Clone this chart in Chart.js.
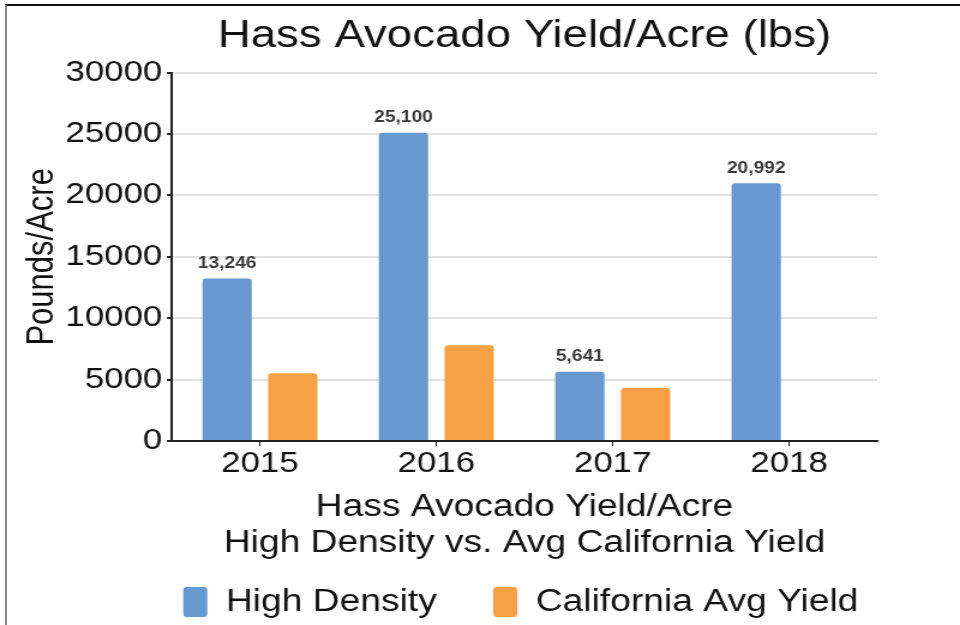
<!DOCTYPE html>
<html lang="en">
<head>
  <meta charset="UTF-8">
  <title>Hass Avocado Yield/Acre</title>
  <script src="https://cdn.jsdelivr.net/npm/chart.js"></script>
  <style>
    body { margin: 0; background: #fff; }
    #yieldChart { position: absolute; left: 0; top: 0; }
    .frame {
      position: absolute; left: 5px; top: 4px; right: 0; bottom: 0;
      border-top: 2px solid #111; border-left: 2px solid #888;
      pointer-events: none;
    }
  </style>
</head>
<body>

<!-- the picture is a bit wider than tall in its text, so the canvas is drawn at 800 wide and shown at 960 -->
<canvas id="yieldChart" width="800" height="625" style="width: 960px; height: 625px;"></canvas>
<div class="frame"></div>

<script>
  const years = ['2015', '2016', '2017', '2018'];
  const highDensity = [13246, 25100, 5641, 20992];
  const californiaAvg = [5530, 7800, 4320, null];
  const yTicks = [0, 5000, 10000, 15000, 20000, 25000, 30000];

  const fontFamily = '"Liberation Sans", Arial, Helvetica, sans-serif';

  // value labels above the blue bars
  const valueLabels = {
    id: 'valueLabels',
    afterDatasetsDraw(chart) {
      const ctx = chart.ctx;
      const meta = chart.getDatasetMeta(0);
      ctx.save();
      ctx.font = 'bold 16px ' + fontFamily;
      ctx.fillStyle = '#3a3a3a';
      ctx.textAlign = 'center';
      ctx.textBaseline = 'middle';
      meta.data.forEach(function (bar, i) {
        ctx.fillText(highDensity[i].toLocaleString('en-US'), bar.x, bar.y - 15);
      });
      ctx.restore();
    }
  };

  const ctx = document.getElementById('yieldChart').getContext('2d');

  new Chart(ctx, {
    type: 'bar',
    data: {
      labels: years,
      datasets: [
        {
          label: 'High Density',
          data: highDensity,
          backgroundColor: '#6798cf',
          borderWidth: 0,
          borderRadius: 3,
          categoryPercentage: 0.745,
          barPercentage: 0.75
        },
        {
          label: 'California Avg Yield',
          data: californiaAvg,
          backgroundColor: '#f7a044',
          borderWidth: 0,
          borderRadius: 3,
          categoryPercentage: 0.745,
          barPercentage: 0.75
        }
      ]
    },
    options: {
      responsive: false,
      animation: false,
      devicePixelRatio: 1,
      layout: {
        // legend is centred a little right of the canvas middle
        padding: { left: 0, right: -68, top: 0, bottom: -2.5 }
      },
      plugins: {
        title: {
          display: true,
          fullSize: false,
          text: 'Hass Avocado Yield/Acre (lbs)',
          color: '#111',
          font: { family: fontFamily, size: 38, weight: 'normal', lineHeight: 1.2 },
          padding: { top: 14, bottom: 13 }
        },
        legend: {
          position: 'bottom',
          labels: {
            color: '#111',
            font: { family: fontFamily, size: 31 },
            boxWidth: 20,
            boxHeight: 30,
            padding: 47,
            useBorderRadius: true,
            borderRadius: 3
          }
        },
        tooltip: { enabled: false }
      },
      scales: {
        x: {
          grid: {
            display: true,
            drawOnChartArea: false,
            offset: false,
            tickLength: 5,
            tickColor: '#222'
          },
          border: { color: '#222', width: 2 },
          ticks: {
            color: '#111',
            padding: 3,
            font: { family: fontFamily, size: 29, lineHeight: 1 }
          },
          title: {
            display: true,
            text: ['Hass Avocado Yield/Acre', 'High Density vs. Avg California Yield'],
            color: '#111',
            font: { family: fontFamily, size: 31, lineHeight: 1.16 },
            padding: { top: 8, bottom: -21.5 }
          }
        },
        y: {
          min: yTicks[0],
          max: yTicks[yTicks.length - 1],
          afterBuildTicks: function (axis) {
            axis.ticks = yTicks.map(function (v) { return { value: v }; });
          },
          grid: {
            color: '#e2e2e2',
            lineWidth: 2,
            tickLength: 4,
            tickColor: '#222'
          },
          border: { color: '#222', width: 2 },
          ticks: {
            color: '#111',
            padding: 4,
            font: { family: fontFamily, size: 29, lineHeight: 1 },
            callback: function (value) { return String(value); }
          },
          title: {
            display: true,
            text: 'Pounds/Acre',
            color: '#111',
            font: { family: fontFamily, size: 31, lineHeight: 1 },
            padding: { top: 19.5, bottom: 0 }
          }
        },
        // empty space on the right of the plot
        rightGap: {
          type: 'linear',
          position: 'right',
          grid: { display: false },
          border: { display: false },
          ticks: { display: false },
          afterFit: function (axis) { axis.width = 137; }
        }
      }
    },
    plugins: [valueLabels]
  });
</script>

</body>
</html>
